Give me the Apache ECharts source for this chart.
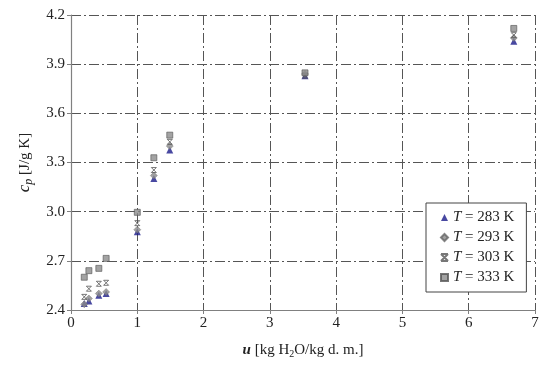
<!DOCTYPE html>
<html>
<head>
<meta charset="utf-8">
<script src="https://cdn.jsdelivr.net/npm/echarts@6/dist/echarts.min.js"></script>
<style>html,body{margin:0;padding:0;background:#fff}#c{width:550px;height:368px}</style>
</head>
<body>
<div id="c"></div>
<script>
var uValues = [0.2, 0.27, 0.42, 0.53, 1.0, 1.25, 1.49, 3.53, 6.68];
var cp283 = [2.44, 2.455, 2.49, 2.50, 2.877, 3.203, 3.376, 3.83, 4.04];
var cp293 = [2.435, 2.47, 2.50, 2.51, 2.89, 3.22, 3.40, 3.84, 4.06];
var cp303 = [2.48, 2.53, 2.56, 2.566, 2.93, 3.254, 3.426, 3.83, 4.077];
var cp333 = [2.60, 2.64, 2.654, 2.715, 2.996, 3.329, 3.467, 3.847, 4.118];
var seriesNames = ['283', '293', '303', '333'];
var xTicks = [0, 1, 2, 3, 4, 5, 6, 7];
var yTicks = [2.4, 2.7, 3.0, 3.3, 3.6, 3.9, 4.2];

var font = 'Liberation Serif';
function pairs(ys) { return uValues.map(function (u, i) { return [u, ys[i]]; }); }
var crossPath = 'path://M0,0L10,10M10,0L0,10M0,0L10,0M0,10L10,10';
var grid = {color: '#555', type: [10, 3, 2, 3], width: 1};

var series = [
  {name: 'T = 283 K', data: pairs(cp283), symbol: 'triangle', symbolSize: 7,
   itemStyle: {color: '#1a1a8a'}},
  {name: 'T = 293 K', data: pairs(cp293), symbol: 'diamond', symbolSize: 7,
   itemStyle: {color: '#8a8a8a', borderColor: '#666', borderWidth: 0.5}},
  {name: 'T = 303 K', data: pairs(cp303), symbol: crossPath, symbolSize: 5,
   itemStyle: {color: 'rgba(0,0,0,0)', borderColor: '#555', borderWidth: 1}},
  {name: 'T = 333 K', data: pairs(cp333), symbol: 'rect', symbolSize: 6,
   itemStyle: {color: '#8c8c8c', borderColor: '#555', borderWidth: 0.8}}
].map(function (s) { s.type = 'scatter'; s.z = 3; return s; });

var chart = echarts.init(document.getElementById('c'));
chart.setOption({
  animation: false,
  backgroundColor: '#fff',
  grid: {left: 71, right: 15, top: 15, bottom: 58},
  xAxis: {
    type: 'value', min: 0, max: 7, interval: 1,
    axisLine: {lineStyle: {color: '#808080', width: 1.2}},
    axisTick: {show: true, length: 4, lineStyle: {color: '#808080'}},
    axisLabel: {color: '#222', fontFamily: font, fontSize: 15, margin: 6,
      formatter: function (v) { return xTicks.indexOf(v) >= 0 ? String(v) : ''; }},
    splitLine: {show: true, lineStyle: grid},
    name: '{i|u} [kg H{s|2}O/kg d. m.]',
    nameLocation: 'middle', nameGap: 31,
    nameTextStyle: {color: '#222', fontFamily: font, fontSize: 15,
      rich: {i: {fontFamily: font, fontStyle: 'italic', fontWeight: 'bold', fontSize: 15, color: '#222'},
             s: {fontFamily: font, fontSize: 10, color: '#222', verticalAlign: 'bottom', padding: [8, 0, 0, 0]}}}
  },
  yAxis: {
    type: 'value', min: 2.4, max: 4.2, interval: 0.3,
    axisLine: {show: true, lineStyle: {color: '#808080', width: 1.2}},
    axisTick: {show: true, length: 4, lineStyle: {color: '#808080'}},
    axisLabel: {color: '#222', fontFamily: font, fontSize: 15, margin: 6,
      formatter: function (v) { return v.toFixed(1); }},
    splitLine: {show: true, lineStyle: grid},
    name: '{i|c}{s|p} [J/g K]',
    nameLocation: 'middle', nameGap: 36, nameRotate: 90,
    nameTextStyle: {color: '#222', fontFamily: font, fontSize: 15,
      rich: {i: {fontFamily: font, fontStyle: 'italic', fontSize: 17, color: '#222'},
             s: {fontFamily: font, fontStyle: 'italic', fontSize: 12, color: '#222', padding: [8, 0, 0, 0]}}}
  },
  legend: {
    orient: 'vertical', left: 426, top: 203, width: 101,
    backgroundColor: '#fff', borderColor: '#444', borderWidth: 1,
    padding: [7, 12, 7, 14], itemGap: 5, itemWidth: 7, itemHeight: 7,
    textStyle: {fontFamily: font, fontSize: 15, color: '#222',
      rich: {i: {fontFamily: font, fontStyle: 'italic', fontSize: 15, color: '#222'}}},
    formatter: function (n) { return '{i|T} ' + n.slice(2); },
    data: series.map(function (s) { return s.name; })
  },
  series: series
});
</script>
</body>
</html>
